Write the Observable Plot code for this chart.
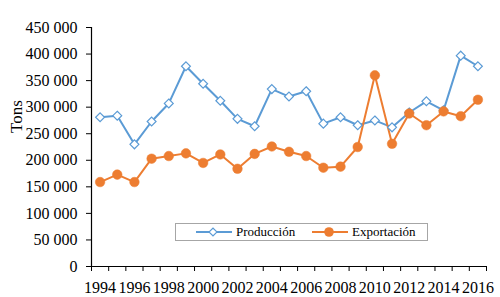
<!DOCTYPE html>
<html><head><meta charset="utf-8">
<script src="https://cdn.jsdelivr.net/npm/d3@7"></script>
<script src="https://cdn.jsdelivr.net/npm/@observablehq/plot@0.6"></script>
<style>
body{margin:0;background:#fff;}
#chart{position:relative;width:500px;height:297px;font-family:"Liberation Serif","Times New Roman",serif;color:#000;}
#legend{position:absolute;left:175px;top:223px;width:251px;height:16px;border:1px solid #a6a6a6;background:#fff;font-size:13px;}
#legend .item{position:absolute;top:0;height:16px;display:flex;align-items:center;}
#legend svg{display:block}
</style></head>
<body>
<div id="chart"></div>
<script>
const years = [1994,1995,1996,1997,1998,1999,2000,2001,2002,2003,2004,2005,2006,2007,2008,2009,2010,2011,2012,2013,2014,2015,2016];
const produccion = [281000,284000,230000,273000,307000,377000,344000,312000,278000,264000,334000,320000,330000,269000,281000,266000,275000,262000,290000,311000,294000,397000,377000];
const exportacion = [159000,173000,159000,203000,208000,213000,195000,211000,184000,212000,226000,216000,208000,186000,188000,225000,360000,231000,288000,266000,292000,283000,314000];
const yTicks = [0,50000,100000,150000,200000,250000,300000,350000,400000,450000];
const xLabels = [1994,1996,1998,2000,2002,2004,2006,2008,2010,2012,2014,2016];
const seriesNames = ["Producción","Exportación"];
const colors = ["#5B9BD5","#ED7D31"];

const prodData = years.map((y,i)=>({year:y,value:produccion[i]}));
const expData = years.map((y,i)=>({year:y,value:exportacion[i]}));
const boundaries = years.map(y=>y-0.5).concat([years[years.length-1]+0.5]);
const fmt = d => d3.format(",")(d).replace(/,/g," ");

const chart = Plot.plot({
  width:500, height:297,
  marginLeft:91, marginRight:14, marginTop:27, marginBottom:31,
  style:{fontFamily:'"Liberation Serif","Times New Roman",serif', fontSize:"16px", color:"#000", background:"#fff"},
  x:{domain:[years[0]-0.5, years[years.length-1]+0.5]},
  y:{domain:[0,450000]},
  marks:[
    Plot.axisY({ticks:yTicks, tickFormat:fmt, tickSize:5, tickPadding:9, label:null, fontSize:16}),
    Plot.ruleX([years[0]-0.5],{stroke:"#000", strokeWidth:1.2}),
    Plot.ruleY([0],{stroke:"#000", strokeWidth:1.2}),
    Plot.axisX({ticks:boundaries, tickFormat:()=>"", tickSize:5, label:null}),
    Plot.axisX({ticks:xLabels, tickFormat:d=>String(d), tickSize:0, tickPadding:15, label:null, fontSize:16}),
    Plot.text(["Tons"],{frameAnchor:"top-left", dx:-82, dy:89, rotate:-90, textAnchor:"middle", fontSize:17, fill:"#000"}),
    Plot.line(prodData,{x:"year",y:"value",stroke:colors[0],strokeWidth:2}),
    Plot.line(expData,{x:"year",y:"value",stroke:colors[1],strokeWidth:2}),
    Plot.dot(prodData,{x:"year",y:"value",symbol:"diamond2",r:4,fill:"#fff",stroke:colors[0],strokeWidth:1.2}),
    Plot.dot(expData,{x:"year",y:"value",r:4.8,fill:colors[1],stroke:colors[1],strokeWidth:0.5})
  ]
});
const container = document.getElementById("chart");
container.appendChild(chart);

// legend
const leg = document.createElement("div");
leg.id = "legend";
const lefts = [20, 136];
seriesNames.forEach((name,i)=>{
  const item = document.createElement("div");
  item.className = "item";
  item.style.left = lefts[i]+"px";
  const marker = i===0
    ? `<rect x="14.2" y="5.2" width="5.6" height="5.6" transform="rotate(45 17 8)" fill="#fff" stroke="${colors[0]}" stroke-width="1.2"/>`
    : `<circle cx="17" cy="8" r="4.8" fill="${colors[1]}"/>`;
  item.innerHTML = `<svg width="36" height="16"><line x1="0" y1="8" x2="36" y2="8" stroke="${colors[i]}" stroke-width="2"/>${marker}</svg><span style="margin-left:4px">${name}</span>`;
  leg.appendChild(item);
});
container.appendChild(leg);
</script>
</body></html>
